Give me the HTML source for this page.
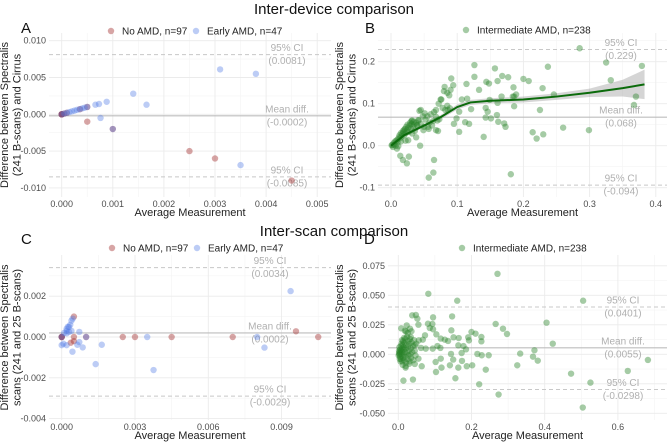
<!DOCTYPE html>
<html><head><meta charset="utf-8"><style>
body{margin:0;background:#fff}
svg{display:block;font-family:"Liberation Sans",sans-serif}
</style></head><body>
<svg id="chart" width="669" height="445" viewBox="0 0 669 445" xmlns="http://www.w3.org/2000/svg">
<rect width="669" height="445" fill="#fff"/>
<text x="334" y="14" font-size="15" text-anchor="middle" fill="#111">Inter-device comparison</text>
<text x="334" y="236" font-size="15" text-anchor="middle" fill="#111">Inter-scan comparison</text>
</svg>
<script>
// ---------- DATA ----------
const aNoX=[0,0,0,0,0.00005,0.0001,0.00036,0.0005,0.0005,0.001,0.0025,0.003,0.0045];
const aNoY=[0,0,0,0,0.0001,0.0002,0.0007,0.001,-0.001,-0.002,-0.005,-0.006,-0.009];
const aEarlyX=[0,0.00005,0.0001,0.00015,0.0002,0.00025,0.0003,0.00035,0.0004,0.00045,0.0005,0.00066,0.00073,0.00088,0.00076,0.0014,0.00166,0.0031,0.0038,0.0035,0.001];
const aEarlyY=[0,0.0001,0.0002,0.0003,0.0004,0.0005,0.0006,0.0007,0.0008,0.0009,0.001,0.0013,0.0014,0.0017,-0.0005,0.0028,0.0013,0.0061,0.0055,-0.0069,-0.002];
const bX=[0.285,0.379,0.325,0.332,0.367,0.370,0.237,0.200,0.208,0.229,0.246,0.225,0.260,0.299,0.214,0.220,0.230,0.181,0.126,0.126,0.157,0.168,0.177,0.161,0.144,0.148,0.133,0.114,0.185,0.189,0.184,0.167,0.161,0.149,0.143,0.146,0.151,0.143,0.162,0.171,0.173,0.160,0.186,0.186,0.140,0.121,0.112,0.118,0.103,0.107,0.115,0.091,0.094,0.081,0.085,0.076,0.089,0.090,0.103,0.099,0.095,0.082,0.086,0.073,0.068,0.068,0.068,0.071,0.064,0.065,0.064,0.057,0.056,0.051,0.045,0.044,0.049,0.041,0.039,0.031,0.026,0.027,0.024,0.018,0.014,0.009,0.032,
0.002,0.004,0.005,0.006,0.008,0.010,0.010,0.012,0.013,0.014,0.015,0.016,0.017,0.018,0.019,0.020,0.020,0.021,0.022,0.023,0.024,0.025,0.026,0.027,0.028,0.029,0.030,0.031,0.032,0.033,0.034,0.035,0.036,0.038,0.040,0.042,0.045,0.048,0.050,0.052,0.055,0.058,0.060,0.062,0.065,0.070,0.072,0.075,0.078,0.080,0.085,0.088,0.003,0.007,0.001,0.011,0.015,0.038,0.043,0.057,0.022];
const bY=[0.232,0.190,0.198,0.156,0.097,0.117,0.188,0.159,0.154,0.137,0.122,0.085,0.043,0.037,0.032,0.017,0.027,-0.068,0.192,0.164,0.184,0.166,0.163,0.154,0.152,0.148,0.133,0.147,0.139,0.122,0.117,0.117,0.102,0.109,0.090,0.081,0.065,0.067,0.057,0.053,0.045,0.073,0.094,0.117,0.021,0.087,0.056,0.052,0.033,0.110,0.112,0.160,0.144,0.140,0.126,0.110,0.089,0.133,0.081,0.065,0.052,0.085,0.085,0.063,0.085,0.069,0.037,0.035,0.059,-0.034,-0.064,-0.076,0.045,0.077,0.085,0.0,0.037,0.061,0.049,0.059,0.013,-0.026,-0.042,-0.034,-0.024,-0.007,0.029,
0.002,0.006,0.003,0.010,0.012,0.015,0.008,0.020,0.025,0.018,0.030,0.022,0.028,0.035,0.032,0.038,0.025,0.040,0.030,0.045,0.036,0.050,0.042,0.033,0.048,0.055,0.040,0.052,0.060,0.045,0.057,0.050,0.035,0.055,0.048,0.060,0.052,0.070,0.045,0.062,0.070,0.055,0.075,0.048,0.080,0.060,0.100,0.110,0.090,0.130,0.095,0.120,-0.003,0.000,0.001,-0.001,0.010,0.020,0.083,0.040,0.012];
const bFitX=[0,0.02,0.05,0.075,0.1,0.12,0.15,0.2,0.25,0.3,0.35,0.383];
const bFitY=[0,0.025,0.048,0.068,0.092,0.103,0.107,0.110,0.117,0.126,0.137,0.146];
const bFitSE=[0.004,0.004,0.004,0.005,0.006,0.006,0.006,0.007,0.008,0.010,0.020,0.035];
const cNoX=[0,0,0,0.0005,0.0005,0.00037,0.0005,0.001,0.0025,0.003,0.0045,0.007,0.00959,0.0105];
const cNoY=[0,0,0,0,0.001,-0.00028,-0.0002,0,0,0,0,0,0.00028,0];
const cEarlyX=[0.00937,0.008,0.0083,0.0035,0.00376,0.00139,0.00164,0.00086,0.00072,0.00072,0.00064,0.00044,0.0004,0.0002,0,0.00007,0.0001,0.0002,0.0002,0.00025,0.0003,0.00035,0.0004,0.00045,0.0003,0.0002,0.001,0];
const cEarlyY=[0.00225,0,-0.00052,0,-0.00162,-0.00133,-0.00038,-0.00051,0.00025,-0.00025,-0.00038,-0.00072,0.0003,-0.0004,-0.0004,-0.00033,0.0002,0.0003,0.0004,0.0005,0.0005,0.0006,0.0008,0.0009,0.00025,0.00018,0,0];
const dX=[0.271,0.082,0.161,0.505,0.405,0.266,0.286,0.297,0.422,0.147,0.333,0.372,0.368,0.381,0.325,0.472,0.525,0.627,0.682,0.504,0.274,0.221,0.156,0.239,0.247,0.228,0.216,0.2,0.211,0.227,0.227,0.191,0.193,0.185,0.202,0.187,0.164,0.174,0.173,0.164,0.178,0.145,0.151,0.165,0.136,0.144,0.150,0.141,0.127,0.116,0.104,0.107,0.115,0.116,0.118,0.102,0.103,0.093,0.095,0.086,0.095,0.081,0.073,0.075,0.094,0.067,0.056,0.062,0.055,0.045,0.045,0.064,0.048,0.055,0.038,0.052,0.04,0.014,0.02,0.023,0.032,0.036,0.034,0.021,
0.003,0.004,0.005,0.005,0.006,0.007,0.007,0.008,0.009,0.009,0.010,0.011,0.011,0.012,0.013,0.013,0.014,0.015,0.015,0.016,0.017,0.018,0.019,0.019,0.020,0.021,0.022,0.023,0.024,0.025,0.026,0.027,0.028,0.029,0.030,0.031,0.032,0.033,0.034,0.035,0.036,0.038,0.040,0.041,0.043,0.045,0.047,0.049,0.002,0.001,0.003,0.006,0.010,0.016,0.012,0.020,0.026,0.018,0.008,0.030,0.004,0.002];
const dY=[0.0682,0.0513,0.0454,0.0454,0.0268,0.0257,0.0217,0.0172,0.0090,0.0321,0.0006,0.0034,-0.002,-0.0054,-0.0093,-0.0164,-0.024,-0.0141,-0.0048,-0.0451,-0.0341,-0.0254,-0.0203,-0.013,-0.0008,-0.0008,0.0003,0.0189,0.0175,0.0147,0.011,0.0144,0.0118,0.0042,-0.0093,-0.0101,-0.0113,-0.0056,0.0011,0.0076,0.007,0.0203,0.0144,0.0138,0.0113,0.0003,-0.0045,-0.0093,0.0124,0.0133,0.0169,0.007,0.0054,-0.0037,-0.0113,-0.0065,-0.015,0.0257,0.0313,0.0223,0.0212,0.0259,0.0161,0.0048,0.0048,0.0124,0.0118,0.0054,-0.0037,0.0076,-0.0082,-0.0101,0.0333,0.0251,0.033,0.0302,-0.0214,-0.0223,-0.0113,0.0245,0.0217,0.0195,0.0147,0.0195,
0.000,0.002,-0.002,0.004,0.001,-0.004,0.007,0.003,-0.001,0.009,0.005,-0.006,0.002,0.008,-0.003,0.011,0.004,0.000,0.006,-0.005,0.010,0.002,-0.002,0.013,0.005,-0.007,0.008,0.001,0.015,-0.004,0.006,0.011,-0.001,0.003,0.009,-0.006,0.013,0.000,0.005,-0.003,0.010,0.002,0.007,-0.005,0.012,0.003,-0.001,0.009,0.001,-0.001,0.006,-0.006,0.012,0.014,-0.009,-0.010,0.018,0.020,0.022,-0.008,-0.004,0.003];
const aXTicks=[0,0.001,0.002,0.003,0.004,0.005], aYTicks=[-0.01,-0.005,0,0.005,0.01];
const bXTicks=[0,0.1,0.2,0.3,0.4], bYTicks=[-0.1,0,0.1,0.2];
const cXTicks=[0,0.003,0.006,0.009], cYTicks=[-0.004,-0.002,0,0.002];
const dXTicks=[0,0.2,0.4,0.6], dYTicks=[-0.05,-0.025,0,0.025,0.05,0.075];
const aStats=[0.0081,-0.0002,-0.0085], aStatLabels=["(0.0081)","(-0.0002)","(-0.0085)"];
const bStats=[0.229,0.068,-0.094], bStatLabels=["(0.229)","(0.068)","(-0.094)"];
const cStats=[0.0034,0.0002,-0.0029], cStatLabels=["(0.0034)","(0.0002)","(-0.0029)"];
const dStats=[0.0401,0.0055,-0.0298], dStatLabels=["(0.0401)","(0.0055)","(-0.0298)"];

// ---------- DRAW ----------
const NS="http://www.w3.org/2000/svg";
const svg=document.getElementById('chart');
function mk(tag,attrs,parent,text){const e=document.createElementNS(NS,tag);for(const k in attrs)e.setAttribute(k,attrs[k]);if(text!==undefined)e.textContent=text;(parent||svg).appendChild(e);return e;}
const RED="rgba(160,40,40,0.42)",BLUE="rgba(80,120,230,0.38)",GREEN="rgba(40,130,40,0.42)";

function panel(p){
  const g=mk('g',{});
  
  
  const sx=v=>p.x0px+v*p.xs, sy=v=>p.y0px-v*p.ys;
  for(let i=0;i<p.xt.length-1;i++){const m=sx((p.xt[i]+p.xt[i+1])/2);mk('line',{x1:m,x2:m,y1:p.top,y2:p.bot,stroke:'#f4f4f4','stroke-width':0.6},g);}
  {const first=sx(p.xt[0]-(p.xt[1]-p.xt[0])/2); if(first>p.left) mk('line',{x1:first,x2:first,y1:p.top,y2:p.bot,stroke:'#f4f4f4','stroke-width':0.6},g);
   const last=sx(p.xt[p.xt.length-1]+(p.xt[1]-p.xt[0])/2); if(last<p.right) mk('line',{x1:last,x2:last,y1:p.top,y2:p.bot,stroke:'#f4f4f4','stroke-width':0.6},g);}
  for(let i=0;i<p.yt.length-1;i++){const m=sy((p.yt[i]+p.yt[i+1])/2);mk('line',{x1:p.left,x2:p.right,y1:m,y2:m,stroke:'#f4f4f4','stroke-width':0.6},g);}
  {const t=sy(p.yt[p.yt.length-1]+(p.yt[1]-p.yt[0])/2); if(t>p.top) mk('line',{x1:p.left,x2:p.right,y1:t,y2:t,stroke:'#f4f4f4','stroke-width':0.6},g);
   const b=sy(p.yt[0]-(p.yt[1]-p.yt[0])/2); if(b<p.bot) mk('line',{x1:p.left,x2:p.right,y1:b,y2:b,stroke:'#f4f4f4','stroke-width':0.6},g);}
  p.xt.forEach(v=>{const x=sx(v);mk('line',{x1:x,x2:x,y1:p.top,y2:p.bot,stroke:'#ebebeb','stroke-width':0.9},g);
    const t=mk('text',{x:x,y:p.bot+10,'font-size':9,'text-anchor':'middle',fill:'#4d4d4d'},g,v.toFixed(p.xd));
    
    });
  p.yt.forEach(v=>{const y=sy(v);mk('line',{x1:p.left,x2:p.right,y1:y,y2:y,stroke:'#ebebeb','stroke-width':0.9},g);
    const t=mk('text',{x:p.left-3,y:y+3,'font-size':9,'text-anchor':'end',fill:'#4d4d4d'},g,v.toFixed(p.yd));
    
    });
  p.stats.forEach((v,i)=>{const y=sy(v);
    const l=mk('line',{x1:p.left,x2:p.right,y1:y,y2:y,stroke:i==1?'#bdbdbd':'#c8c8c8','stroke-width':i==1?1.1:1,'stroke-dasharray':i==1?'none':'4,3'},g);
    
    
    const t1=mk('text',{x:p.lx,y:y-6,'font-size':10,'text-anchor':'middle','dominant-baseline':'central',fill:'#b0b0b0'},g,i==1?'Mean diff.':'95% CI');
    
    
    const t2=mk('text',{x:p.lx,y:y+7,'font-size':10,'text-anchor':'middle','dominant-baseline':'central',fill:'#b0b0b0'},g,p.statLabels[i]);
    
    });
  if(p.fit){
    const up=p.fit.x.map((v,i)=>sx(v)+','+sy(p.fit.y[i]+p.fit.se[i])), lo=p.fit.x.map((v,i)=>sx(v)+','+sy(p.fit.y[i]-p.fit.se[i])).reverse();
    const band=mk('polygon',{points:up.concat(lo).join(' '),fill:'rgba(150,150,150,0.4)'},g);
    
    
  }
  p.series.forEach(s=>{s.x.forEach((v,i)=>{const c=mk('circle',{cx:sx(v),cy:sy(s.y[i]),r:3.2,fill:s.color},g);
    
    });});
  if(p.fit){
    const pl=mk('polyline',{points:p.fit.x.map((v,i)=>sx(v)+','+sy(p.fit.y[i])).join(' '),fill:'none',stroke:'#0b6b0b','stroke-width':2,'stroke-linejoin':'round'},g);
    
    
  }
  const L=mk('text',{x:p.letterX,y:p.letterY,'font-size':15,fill:'#111'},g,p.letter);
  
  
  const xt=mk('text',{x:(p.left+p.right)/2,y:p.bot+19,'font-size':11,'text-anchor':'middle',fill:'#222'},g,'Average Measurement');
  
  
  const cy=(p.top+p.bot)/2;
  const yt=mk('text',{x:0,y:0,'font-size':11,'text-anchor':'middle',fill:'#222',transform:`translate(${p.ytx},${cy}) rotate(-90)`},g);
  
  
  mk('tspan',{x:0,dy:0},yt,p.ytitle[0]);mk('tspan',{x:0,dy:12.5},yt,p.ytitle[1]);
  p.legend.forEach(l=>{
    const d=mk('circle',{cx:l.x,cy:p.legY,r:3.2,fill:l.color},g);
    
    
    const t=mk('text',{x:l.x+11,y:p.legY+3.5,'font-size':10,fill:'#222'},g,l.text);
    
    });
}

panel({letter:'A',letterX:21,letterY:33,left:49,right:331,top:33,bot:197,x0px:61.7,xs:51100,y0px:114.3,ys:7360,
  xt:aXTicks,yt:aYTicks,xd:3,yd:3,stats:aStats,statLabels:aStatLabels,lx:287,
  series:[{name:'no-amd',x:aNoX,y:aNoY,color:RED},{name:'early-amd',x:aEarlyX,y:aEarlyY,color:BLUE}],
  ytx:8,ytitle:['Difference between Spectralis','(241 B-scans) and Cirrus'],legY:31,
  legend:[{x:111,color:RED,text:'No AMD, n=97'},{x:196,color:BLUE,text:'Early AMD, n=47'}]});
panel({letter:'B',letterX:365,letterY:33,left:378,right:667,top:33,bot:197,x0px:391,xs:662,y0px:145.7,ys:420,
  xt:bXTicks,yt:bYTicks,xd:1,yd:1,stats:bStats,statLabels:bStatLabels,lx:621,
  series:[{name:'intermediate-amd',x:bX,y:bY,color:GREEN}],fit:{x:bFitX,y:bFitY,se:bFitSE},
  ytx:343,ytitle:['Difference between Spectralis','(241 B-scans) and Cirrus'],legY:30,
  legend:[{x:466,color:GREEN,text:'Intermediate AMD, n=238'}]});
panel({letter:'C',letterX:21,letterY:244,left:49,right:331,top:255,bot:420,x0px:61.7,xs:24430,y0px:337,ys:20400,
  xt:cXTicks,yt:cYTicks,xd:3,yd:3,stats:cStats,statLabels:cStatLabels,lx:270,
  series:[{name:'no-amd',x:cNoX,y:cNoY,color:RED},{name:'early-amd',x:cEarlyX,y:cEarlyY,color:BLUE}],
  ytx:8,ytitle:['Difference between Spectralis','scans (241 and 25 B-scans)'],legY:248,
  legend:[{x:112,color:RED,text:'No AMD, n=97'},{x:197,color:BLUE,text:'Early AMD, n=47'}]});
panel({letter:'D',letterX:364,letterY:244,left:388,right:667,top:255,bot:420,x0px:398.3,xs:366,y0px:354.3,ys:1180,
  xt:dXTicks,yt:dYTicks,xd:1,yd:3,stats:dStats,statLabels:dStatLabels,lx:623,
  series:[{name:'intermediate-amd',x:dX,y:dY,color:GREEN}],
  ytx:343,ytitle:['Difference between Spectralis','scans (241 and 25 B-scans)'],legY:248,
  legend:[{x:462,color:GREEN,text:'Intermediate AMD, n=238'}]});
</script>
</body></html>
